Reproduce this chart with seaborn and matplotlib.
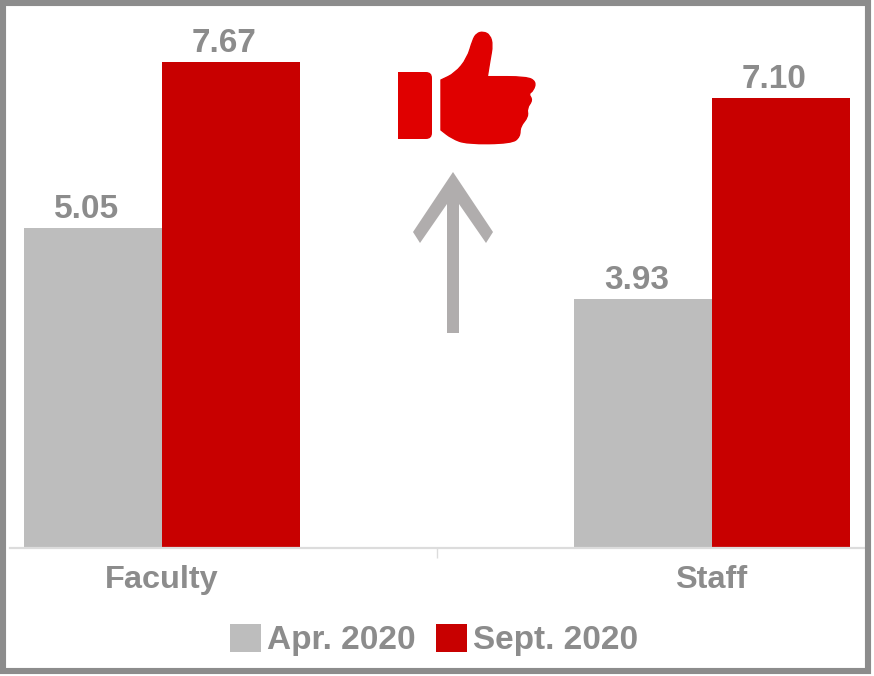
import pandas as pd
import seaborn as sns
import matplotlib.pyplot as plt
from matplotlib.patches import Polygon, FancyBboxPatch, Rectangle, PathPatch
from matplotlib.path import Path

# Chart values
groups = ["Faculty", "Staff"]
apr_2020 = [5.05, 3.93]
sept_2020 = [7.67, 7.10]
periods = ["Apr. 2020", "Sept. 2020"]

GREY_TEXT = "#8c8c8c"

sns.set_style("white")
plt.rcParams['font.family'] = ['Liberation Sans', 'DejaVu Sans']
plt.rcParams['font.weight'] = 'bold'
plt.rcParams['font.size'] = 24

df = pd.DataFrame({
    "group": groups * 2,
    "period": [periods[0]] * 2 + [periods[1]] * 2,
    "value": apr_2020 + sept_2020,
})

W, H = 874, 676
fig = plt.figure(figsize=(W / 100, H / 100), dpi=100, facecolor="white")

# Axes spans x 10-866, y 8-548 in pixels
ax = fig.add_axes([10 / W, 1 - 548 / H, 856 / W, 540 / H])
sns.barplot(data=df, x="group", y="value", hue="period", hue_order=periods,
            palette=["#bdbdbd", "#c80000"], width=0.502, saturation=1,
            linewidth=0, ax=ax, legend=True)

ax.set_xlim(-0.276, 1.281)
ax.set_ylim(0, 540 / 63.4)
ax.set_xlabel("")
ax.set_ylabel("")
ax.set_yticks([])
sns.despine(ax=ax, left=True)
ax.spines['bottom'].set_color("#dcdcdc")
ax.spines['bottom'].set_linewidth(1.6)
ax.patch.set_alpha(0)

ax.tick_params(axis='x', length=0, pad=12, labelcolor=GREY_TEXT, labelsize=23.4)
ax.set_xticks([0.5], minor=True)
ax.tick_params(axis='x', which='minor', bottom=True, length=7, width=1, color="#dcdcdc")

# Value labels sit a little left of the bar centres
for container in ax.containers:
    for t in ax.bar_label(container, fmt="%.2f", color=GREY_TEXT, padding=3):
        t.xyann = (-4.5, 2.3)

handles, labels = ax.get_legend_handles_labels()
ax.get_legend().remove()
fig.legend(handles, labels, ncol=2, frameon=False, loc="center",
           bbox_to_anchor=(434 / W, 1 - 640 / H), labelcolor=GREY_TEXT,
           handlelength=0.93, handleheight=0.95, handletextpad=0.18,
           columnspacing=0.6, borderpad=0, borderaxespad=0)

# Overlay in pixel coordinates for the frame, thumb and arrow
over = fig.add_axes([0, 0, 1, 1], zorder=5)
over.set_xlim(0, W)
over.set_ylim(H, 0)
over.axis("off")

over.add_patch(Rectangle((3, 3), 865, 668, fill=False, ec="#8c8c8c", lw=4.4, joinstyle="miter"))

arrow = [(453, 172), (493, 232), (486, 243), (459, 204), (459, 333), (447, 333),
         (447, 204), (420, 243), (413, 232)]
over.add_patch(Polygon(arrow, closed=True, fc="#b0adad", ec="none"))

# Thumb outline, measured in a 3x crop starting at (380, 20)
thumb_crop = [(183, 180), (183, 180), (225, 160), (262, 115), (278, 60), (290, 40),
              (310, 35), (330, 45), (338, 75), (330, 120), (322, 170), (322, 170),
              (440, 170), (468, 185), (460, 212), (445, 222), (458, 240), (440, 265),
              (445, 290), (420, 320), (420, 350), (395, 370), (260, 372), (215, 355),
              (183, 330), (183, 330)]
thumb = [(380 + x / 3, 20 + y / 3) for x, y in thumb_crop]

# Round the outline with quadratic curves between segment midpoints
verts = [thumb[0]]
codes = [Path.MOVETO]
for i in range(1, len(thumb)):
    a, b = thumb[i], thumb[(i + 1) % len(thumb)]
    verts += [a, ((a[0] + b[0]) / 2, (a[1] + b[1]) / 2)]
    codes += [Path.CURVE3, Path.CURVE3]
verts.append(thumb[0])
codes.append(Path.CLOSEPOLY)
over.add_patch(PathPatch(Path(verts, codes), fc="#e00000", ec="#e00000", lw=1))

over.add_patch(FancyBboxPatch((398, 72), 34, 67, boxstyle="round,pad=0,rounding_size=6",
                              fc="#e00000", ec="none"))
over.add_patch(Rectangle((398, 72), 12, 67, fc="#e00000", ec="none"))

fig.savefig("out.png", dpi=100)
plt.close(fig)
